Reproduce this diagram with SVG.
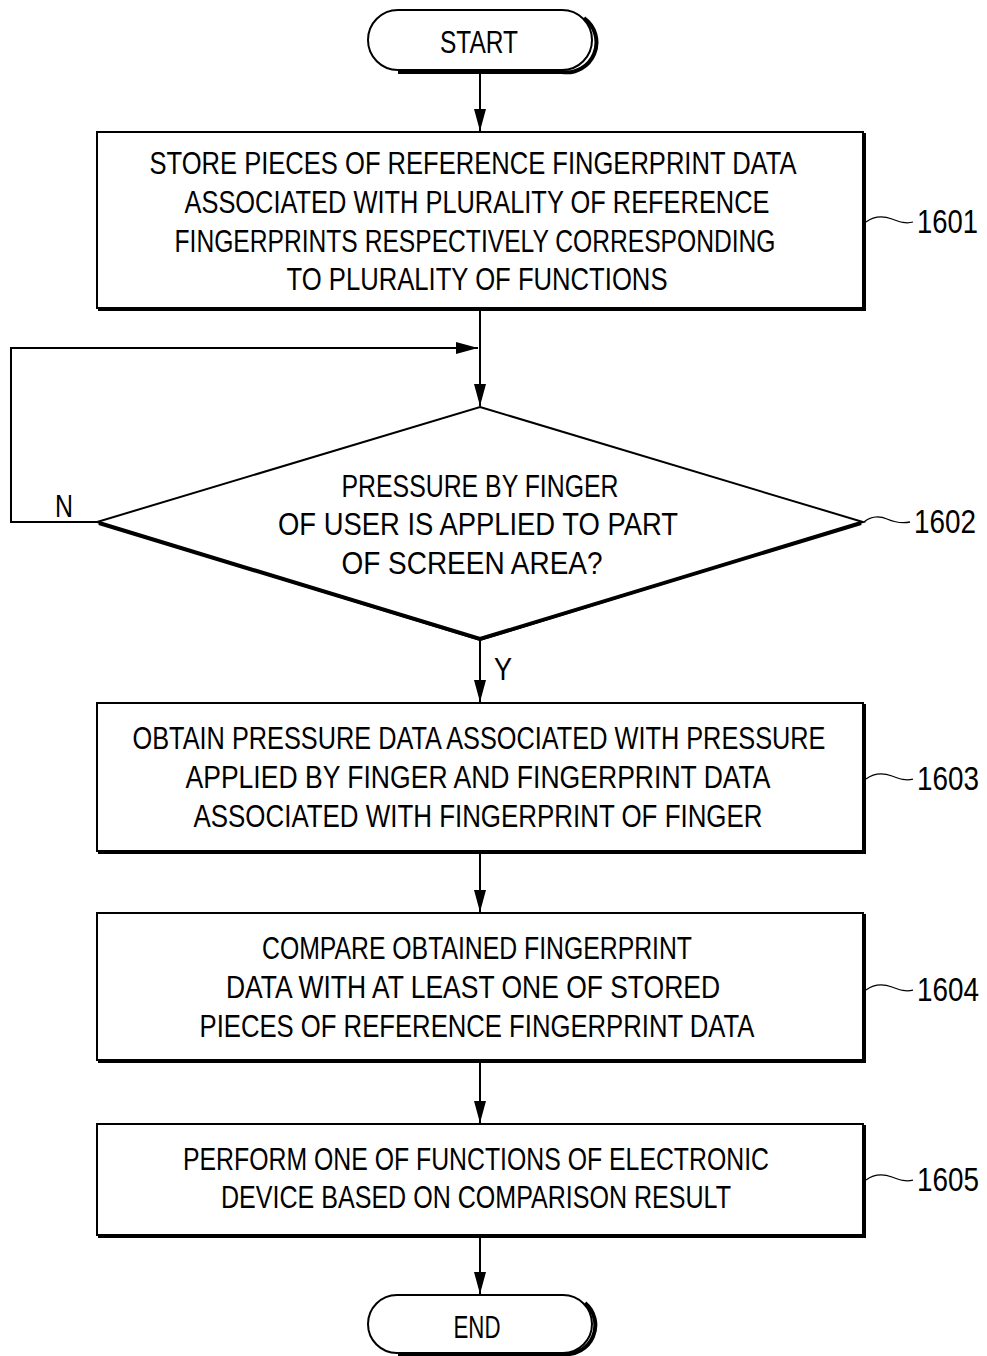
<svg xmlns="http://www.w3.org/2000/svg" width="987" height="1356" viewBox="0 0 987 1356">
<style>
.box{fill:#fff;stroke:#000;stroke-width:2}
.sh{fill:none;stroke:#000;stroke-width:4}
.t{font-family:"Liberation Sans",Arial,sans-serif;font-size:32px;fill:#000;text-anchor:middle}
.n{font-family:"Liberation Sans",Arial,sans-serif;font-size:33px;fill:#000}
.c{fill:none;stroke:#000;stroke-width:2}
.ld{fill:none;stroke:#000;stroke-width:1.3}
</style>
<defs>
<marker id="ah" viewBox="0 0 22 12" refX="22" refY="6" markerWidth="22" markerHeight="12" markerUnits="userSpaceOnUse" orient="auto">
<path d="M0,0 L22,6 L0,12 z" fill="#000"/>
</marker>
</defs>
<g id="connectors">
<path class="c" d="M480,71 V131" marker-end="url(#ah)"/>
<path class="c" d="M480,310 V406" marker-end="url(#ah)"/>
<path class="c" d="M97,522 H11 V348 H478" marker-end="url(#ah)"/>
<path class="c" d="M480,641 V702" marker-end="url(#ah)"/>
<path class="c" d="M480,853 V912" marker-end="url(#ah)"/>
<path class="c" d="M480,1062 V1123" marker-end="url(#ah)"/>
<path class="c" d="M480,1237 V1294" marker-end="url(#ah)"/>
<text class="t" x="64" y="517" textLength="18" lengthAdjust="spacingAndGlyphs">N</text>
<text class="t" x="503" y="680" textLength="18" lengthAdjust="spacingAndGlyphs">Y</text>
</g>
<g id="start">
<rect class="box" x="368" y="10" width="224" height="60" rx="30"/>
<path class="sh" d="M584,18 A30,30 0 0 1 562,72 H398"/>
<text class="t" x="479" y="53" textLength="78" lengthAdjust="spacingAndGlyphs">START</text>
</g>
<g id="n1601">
<rect class="box" x="97" y="132" width="766" height="176"/>
<path class="sh" d="M864,133 V309 H98"/>
<text class="t" x="473" y="174" textLength="647" lengthAdjust="spacingAndGlyphs">STORE PIECES OF REFERENCE FINGERPRINT DATA</text>
<text class="t" x="477" y="213" textLength="585" lengthAdjust="spacingAndGlyphs">ASSOCIATED WITH PLURALITY OF REFERENCE</text>
<text class="t" x="475" y="252" textLength="601" lengthAdjust="spacingAndGlyphs">FINGERPRINTS RESPECTIVELY CORRESPONDING</text>
<text class="t" x="477" y="290" textLength="381" lengthAdjust="spacingAndGlyphs">TO PLURALITY OF FUNCTIONS</text>
<path class="ld" d="M866,222 C874,216 884,216 892,219 S906,224 913,222"/>
<text class="n" x="917" y="233" textLength="61" lengthAdjust="spacingAndGlyphs">1601</text>
</g>
<g id="n1602">
<path class="box" d="M480,407 L863,522 L480,640 L97,522 Z"/>
<path class="sh" d="M99,523 L480,639 L861,523"/>
<text class="t" x="480" y="497" textLength="277" lengthAdjust="spacingAndGlyphs">PRESSURE BY FINGER</text>
<text class="t" x="478" y="535" textLength="400" lengthAdjust="spacingAndGlyphs">OF USER IS APPLIED TO PART</text>
<text class="t" x="472" y="574" textLength="261" lengthAdjust="spacingAndGlyphs">OF SCREEN AREA?</text>
<path class="ld" d="M864,522 C871,516 880,516 887,519 S901,524 910,522"/>
<text class="n" x="914" y="533" textLength="62" lengthAdjust="spacingAndGlyphs">1602</text>
</g>
<g id="n1603">
<rect class="box" x="97" y="703" width="766" height="148"/>
<path class="sh" d="M864,704 V852 H98"/>
<text class="t" x="479" y="749" textLength="693" lengthAdjust="spacingAndGlyphs">OBTAIN PRESSURE DATA ASSOCIATED WITH PRESSURE</text>
<text class="t" x="478" y="788" textLength="585" lengthAdjust="spacingAndGlyphs">APPLIED BY FINGER AND FINGERPRINT DATA</text>
<text class="t" x="478" y="827" textLength="569" lengthAdjust="spacingAndGlyphs">ASSOCIATED WITH FINGERPRINT OF FINGER</text>
<path class="ld" d="M866,779 C874,773 884,773 892,776 S906,781 913,779"/>
<text class="n" x="917" y="790" textLength="62" lengthAdjust="spacingAndGlyphs">1603</text>
</g>
<g id="n1604">
<rect class="box" x="97" y="913" width="766" height="147"/>
<path class="sh" d="M864,914 V1061 H98"/>
<text class="t" x="477" y="959" textLength="430" lengthAdjust="spacingAndGlyphs">COMPARE OBTAINED FINGERPRINT</text>
<text class="t" x="473" y="998" textLength="494" lengthAdjust="spacingAndGlyphs">DATA WITH AT LEAST ONE OF STORED</text>
<text class="t" x="477" y="1037" textLength="555" lengthAdjust="spacingAndGlyphs">PIECES OF REFERENCE FINGERPRINT DATA</text>
<path class="ld" d="M866,990 C874,984 884,984 892,987 S906,992 913,990"/>
<text class="n" x="917" y="1001" textLength="62" lengthAdjust="spacingAndGlyphs">1604</text>
</g>
<g id="n1605">
<rect class="box" x="97" y="1124" width="766" height="111"/>
<path class="sh" d="M864,1125 V1236 H98"/>
<text class="t" x="476" y="1170" textLength="586" lengthAdjust="spacingAndGlyphs">PERFORM ONE OF FUNCTIONS OF ELECTRONIC</text>
<text class="t" x="476" y="1208" textLength="510" lengthAdjust="spacingAndGlyphs">DEVICE BASED ON COMPARISON RESULT</text>
<path class="ld" d="M866,1180 C874,1174 884,1174 892,1177 S906,1182 913,1180"/>
<text class="n" x="917" y="1191" textLength="62" lengthAdjust="spacingAndGlyphs">1605</text>
</g>
<g id="end">
<rect class="box" x="368" y="1295" width="224" height="58" rx="29"/>
<path class="sh" d="M585,1303 A29,29 0 0 1 563,1354 H398"/>
<text class="t" x="477" y="1338" textLength="47" lengthAdjust="spacingAndGlyphs">END</text>
</g>
</svg>
